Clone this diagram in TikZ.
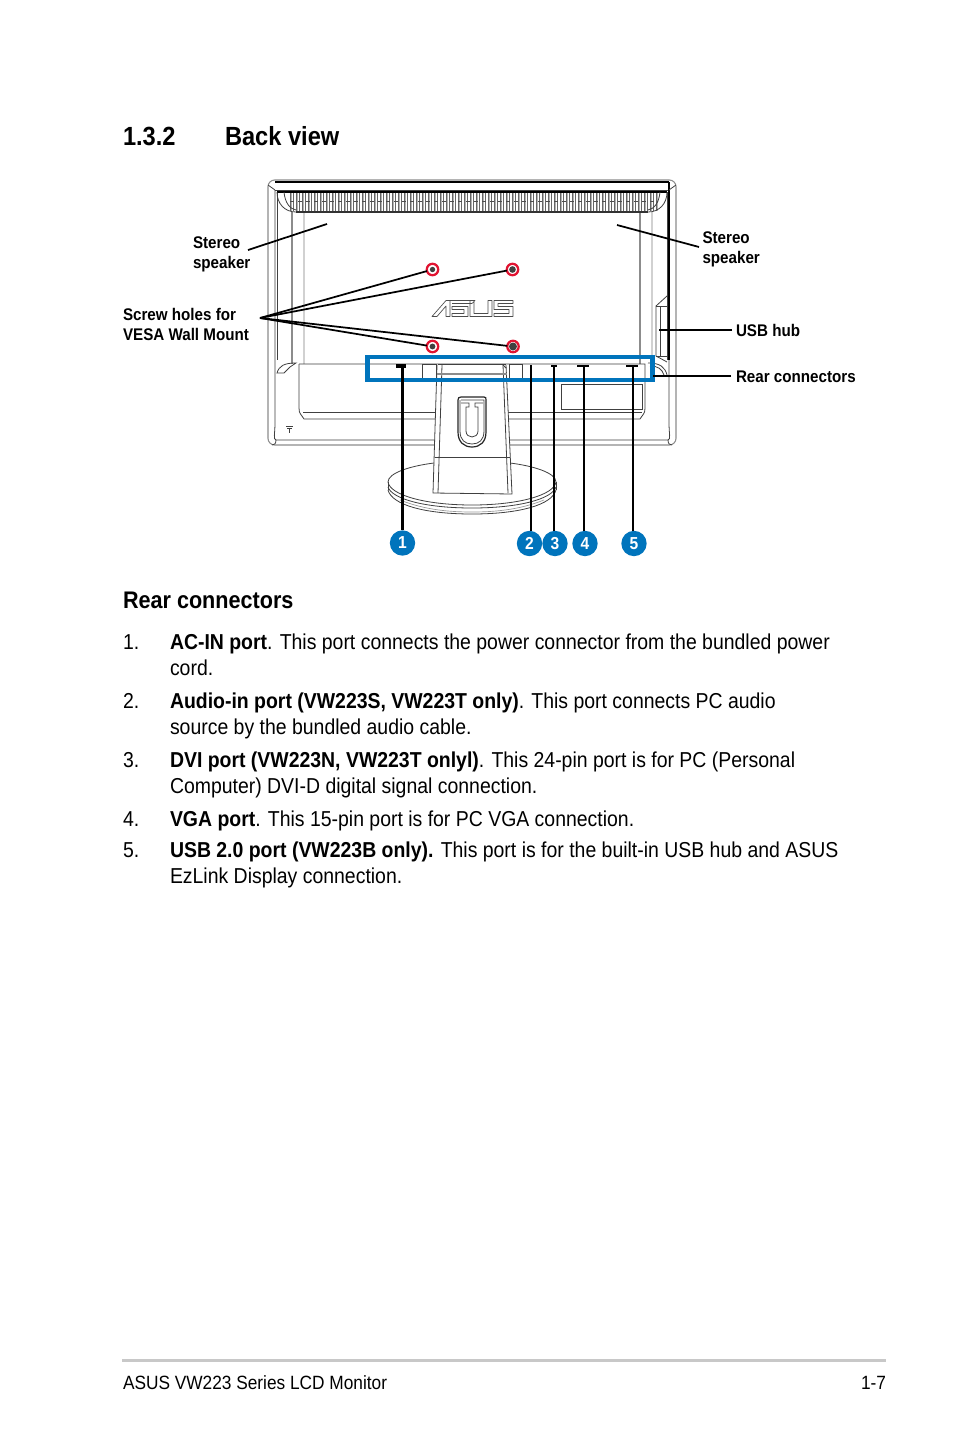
\documentclass[tikz,border=0pt]{standalone}
\usepackage{fontspec}
\setmainfont[FakeStretch=0.90]{Liberation Sans}
\definecolor{ablue}{RGB}{0,116,188}
\definecolor{ared}{RGB}{225,20,50}
\definecolor{arule}{RGB}{200,200,200}
\newcommand{\bodyf}{\fontsize{16.2}{16.2}\selectfont}
\newcommand{\labf}{\bfseries\fontsize{12.65}{12.65}\selectfont}
\newcommand{\headf}{\bfseries\fontsize{19.7}{19.7}\selectfont}
\newcommand{\subf}{\bfseries\fontsize{18}{18}\selectfont}
\newcommand{\footf}{\fontsize{14.4}{14.4}\selectfont}
\tikzset{
  x=0.75pt,y=-0.75pt,
  txt/.style={anchor=base west,inner sep=0pt,outer sep=0pt,align=left},
  lab/.style={txt,font=\labf},
  body/.style={txt,font=\bodyf},
  mon/.style={draw=black!75,line width=0.6pt},
  mong/.style={draw=black!45,line width=0.8pt},
  monl/.style={draw=black!18,line width=1pt},
  monk/.style={draw=black,line width=0.8pt},
  conn/.style={draw=black,line width=1.3pt},
  conthick/.style={draw=black,line width=2.4pt},
  badge/.style={circle,fill=ablue,text=white,minimum size=19pt,inner sep=0pt,font=\bfseries\fontsize{13}{13}\selectfont},
  screw/.style={circle,draw=ared,line width=1.7pt,fill=white,minimum size=8.6pt,inner sep=0pt,outer sep=0pt},
  port/.style={fill=black,draw=none,minimum height=2pt,inner sep=0pt},
}
\begin{document}
\begin{tikzpicture}
\useasboundingbox (0,0) rectangle (954,1438);
\fill[white] (0,0) rectangle (954,1438);

% ---- monitor body ----
\draw[mong,rounded corners=5pt] (436,445) -- (268,445) -- (268,180) -- (676,180) -- (676,445) -- (508,445);
\draw[mon] (436,440) -- (276,440) .. controls (273,440) and (275,432) .. (275,425) -- (275,190);
\draw[mon] (508,440) -- (668,440) .. controls (671,440) and (669,432) .. (669,425) -- (669,360);
\draw[mon] (276,440) .. controls (276,444) and (274,445) .. (272,445);
\draw[mon] (668,440) .. controls (668,444) and (670,445) .. (672,445);
\draw[monk] (275,182) -- (669,182);
\draw[mon] (275,190) -- (669,190);
\draw[mon] (277,192) -- (277,360);
\draw[monk] (669,182) -- (669,360);
\draw[mon] (667,192) -- (667,360);
\draw[mon] (268,185) -- (275,190) (676,185) -- (669,190);
\draw[mong] (292,212) -- (292,364);
\draw[monl] (304,212) -- (304,364);
\draw[mong] (640,212) -- (640,364);
\draw[monl] (652,212) -- (652,360);

% ---- grille ----
\foreach \gx in {290,293,...,658} {\draw[black!60,line width=0.55pt] (\gx,193) -- (\gx,211);}
\foreach \gx in {291.5,297.5,...,658} {\draw[black!30,line width=0.9pt] (\gx,193) -- (\gx,211);}
\draw[black!70,line width=0.4pt,dashed] (290,201) -- (658,201);
\draw[monk] (277,192) -- (667,192);
\draw[draw=black!80,line width=1pt] (296,212) -- (648,212);
\draw[mon] (277,192) .. controls (277,204) and (285,212) .. (296,212);
\draw[mon] (667,192) .. controls (667,204) and (659,212) .. (648,212);
\draw[mon] (284,192) .. controls (285,203) and (290,209) .. (296,210);
\draw[mon] (660,192) .. controls (659,203) and (654,209) .. (648,210);

% ---- usb hub ----
\draw[mon] (667,296) -- (656,306) -- (656,356) -- (667,362);
\draw[mon] (656,306) -- (667,306) (656,356) -- (667,356);
\draw[mon] (660,306) -- (660,356);

% ---- lower panel ----
\draw[mon] (299,364) -- (645,364) -- (645,408) .. controls (645,414) and (643,414) .. (640,419) -- (508,419);
\draw[mon] (299,364) -- (299,408) .. controls (299,414) and (301,414) .. (304,419) -- (436,419);
\draw[mon] (303,412) -- (436,412) (508,412) -- (642,412);
\draw[mon] (561,384) rectangle (642,409);
\draw[mon] (422,364) rectangle (436,378);
\draw[mon] (509,364) rectangle (522,378);
\draw[mon] (277,373) .. controls (279,366) and (284,363) .. (296,363) -- (290,367) -- (284,373) -- cycle;
\draw[mon] (667,375) .. controls (665,367) and (660,363) .. (648,363);
\draw[mon] (664,375) .. controls (662,369) and (658,366) .. (650,366);
\draw[mon] (286,426.5) -- (293,426.5) (287,428) -- (292,428) (289.5,428) -- (289.5,433);

% ---- base ----
\fill[white] (388,482) .. controls (388,470) and (425,462) .. (472,462) .. controls (519,462) and (556,470) .. (556,482) -- (556,490) .. controls (556,504) and (519,515) .. (472,515) .. controls (425,515) and (388,504) .. (388,490) -- cycle;
\draw[mon] (388,482) .. controls (388,473) and (410,466) .. (434,463);
\draw[mon] (556,482) .. controls (556,473) and (534,466) .. (510,463);
\draw[mon] (388,482) -- (388,490);
\draw[mon] (556,482) -- (556,490);
\draw[mon] (388,482) .. controls (390,495) and (425,505) .. (472,505) .. controls (519,505) and (554,495) .. (556,482);
\draw[mon] (388,487) .. controls (392,499) and (425,508) .. (472,508) .. controls (519,508) and (552,499) .. (556,487);
\draw[mon] (388,490) .. controls (392,505) and (425,514) .. (472,514) .. controls (519,514) and (552,505) .. (556,490);
\draw[black!40,line width=0.5pt] (400,500) .. controls (425,510) and (450,512) .. (472,512) .. controls (494,512) and (519,510) .. (544,500);

% ---- stand ----
\fill[white] (438,364) -- (506,364) -- (512,494) -- (433,494) -- cycle;
\draw[mon] (437,365) -- (433,493) -- (512,494) -- (506,365);
\draw[mon] (442,365) -- (438,493);
\draw[mon] (503,365) -- (508,493);
\draw[mon] (435,457) -- (510,457);
\draw[mon] (438,364) -- (506,364);
\draw[mong] (437,374) -- (507,374);
\draw[mon] (503,365) -- (506,368);

% ---- cable clip ----
\draw[black!85,line width=0.9pt] (461,397) -- (484,397) .. controls (486,397) and (486,398) .. (486,400) -- (486,432) .. controls (486,442) and (480,447) .. (472,447) .. controls (464,447) and (458,442) .. (458,432) -- (458,400) .. controls (458,398) and (459,397) .. (461,397) -- cycle;
\draw[mon] (461,400) -- (484,400) -- (484,431) .. controls (484,440) and (479,444) .. (472,444) .. controls (465,444) and (460,440) .. (460,431) -- (460,400);
\draw[mon] (461,403) -- (469,403) -- (469,407) -- (466,407) -- (466,431) .. controls (466,439) and (478,439) .. (478,431) -- (478,407) -- (475,407) -- (475,403) -- (483,403);

% ---- logo ----
\draw[black!70,line width=0.5pt,line join=round]
 (432,316.5) -- (446,300.5) -- (450,300.5) -- (450,316.5) -- (446,316.5) -- (446,306) -- (437,316.5) -- cycle
 (448,300.5) -- (475,300.5) -- (472,303.5) -- (452,303.5)
 (452,306.5) -- (468,306.5) -- (468,316.5) -- (452,316.5) -- (452,313.5) -- (464,313.5) -- (464,309.5) -- (452,309.5) -- cycle
 (470,300.5) -- (474,300.5) -- (474,313.5) -- (488,313.5) -- (488,300.5) -- (492,300.5) -- (492,316.5) -- (470,316.5) -- cycle
 (494,300.5) -- (513,300.5) -- (513,303.5) -- (498,303.5) -- (498,306.5) -- (513,306.5) -- (513,316.5) -- (494,316.5) -- (494,313.5) -- (509,313.5) -- (509,309.5) -- (494,309.5) -- cycle;

% ---- ports ----
\node[port,minimum width=7pt,minimum height=2.5pt] (p1) at (401,366) {};
\node[port,minimum width=2pt] (p2) at (531,366) {};
\node[port,minimum width=5pt] (p3) at (554,366) {};
\node[port,minimum width=9pt] (p4) at (583,366) {};
\node[port,minimum width=9pt] (p5) at (632,366) {};

% ---- highlight ----
\node[draw=ablue,line width=3.7pt,inner sep=0pt,outer sep=0pt,minimum width=213.75pt,minimum height=17.25pt,anchor=north west] (rearbox) at (367.5,357) {};

% ---- screws ----
\node[screw] (s1) at (432.5,269.5) {};
\node[screw] (s2) at (512.5,269.5) {};
\node[screw] (s3) at (432.5,346.5) {};
\node[screw] (s4) at (513,346.5) {};
\fill[black!75] (s1) circle (2pt) (s2) circle (2.5pt) (s3) circle (2.2pt) (s4) circle (3pt);
\coordinate (fan) at (260,318);
\draw[conn] (fan) -- (s1);
\draw[conn] (fan) -- (s2);
\draw[conn] (fan) -- (s3);
\draw[conn] (fan) -- (s4);

% ---- labels ----
\node[lab] (lsl) at (193,248) {Stereo};
\node[lab] (lsl2) at (193,268) {speaker};
\node[lab] (lsr) at (702.5,243) {Stereo};
\node[lab] (lsr2) at (702.5,263) {speaker};
\node[lab] (lsc) at (123,320) {Screw holes for};
\node[lab] (lsc2) at (123,340) {VESA Wall Mount};
\node[lab] (lusb) at (736,336) {USB hub};
\node[lab] (lrear) at (736,382) {Rear connectors};
\coordinate (sl0) at (248,250); \coordinate (sl1) at (327,224);
\coordinate (sr0) at (699,247); \coordinate (sr1) at (617,225);
\coordinate (usb0) at (732,330); \coordinate (usb1) at (659,330);
\coordinate (rc0) at (731,376);
\draw[conn] (sl0) -- (sl1);
\draw[conn] (sr0) -- (sr1);
\draw[conn] (usb0) -- (usb1);
\draw[conn] (rc0) -- (rc0 -| rearbox.east);

% ---- badges ----
\node[badge] (b1) at (402.5,543) {1};
\node[badge] (b2) at (529.5,543.5) {2};
\node[badge] (b3) at (555,543.5) {3};
\node[badge] (b4) at (585,543.5) {4};
\node[badge] (b5) at (634,543.5) {5};
\coordinate (t1) at (402.5,366); \coordinate (t2) at (531,366); \coordinate (t3) at (554,366);
\coordinate (t4) at (584,366); \coordinate (t5) at (633,366);
\draw[conthick] (t1) -- (t1 |- b1.north);
\draw[conn,line width=1.7pt] (t2) -- (t2 |- b2.north);
\draw[conn,line width=1.7pt] (t3) -- (t3 |- b3.north);
\draw[conn,line width=1.7pt] (t4) -- (t4 |- b4.north);
\draw[conn,line width=1.7pt] (t5) -- (t5 |- b5.north);

% ---- text ----
\node[txt,font=\headf] (h1) at (123,145) {1.3.2};
\node[txt,font=\headf] (h2) at (225,145) {Back view};
\node[txt,font=\subf] (h3) at (123,608) {Rear connectors};
\node[body] (n1) at (123,649) {1.};
\node[body] (i1) at (170,649) {\textbf{AC-IN port}. This port connects the power connector from the bundled power};
\node[body] (i1b) at (170,675) {cord.};
\node[body] (n2) at (123,708) {2.};
\node[body] (i2) at (170,708) {\textbf{Audio-in port (VW223S, VW223T only)}. This port connects PC audio};
\node[body] (i2b) at (170,734) {source by the bundled audio cable.};
\node[body] (n3) at (123,767) {3.};
\node[body] (i3) at (170,767) {\textbf{DVI port (VW223N, VW223T onlyl)}. This 24-pin port is for PC (Personal};
\node[body] (i3b) at (170,793) {Computer) DVI-D digital signal connection.};
\node[body] (n4) at (123,826) {4.};
\node[body] (i4) at (170,826) {\textbf{VGA port}. This 15-pin port is for PC VGA connection.};
\node[body] (n5) at (123,857) {5.};
\node[body] (i5) at (170,857) {\textbf{USB 2.0 port (VW223B only).} This port is for the built-in USB hub and ASUS};
\node[body] (i5b) at (170,883) {EzLink Display connection.};

% ---- footer ----
\draw[arule,line width=2.2pt] (122,1360.5) -- (886,1360.5);
\node[txt,font=\footf] (f1) at (123,1389) {ASUS VW223 Series LCD Monitor};
\node[txt,font=\footf,anchor=base east] (f2) at (886,1389) {1-7};
\end{tikzpicture}
\end{document}
